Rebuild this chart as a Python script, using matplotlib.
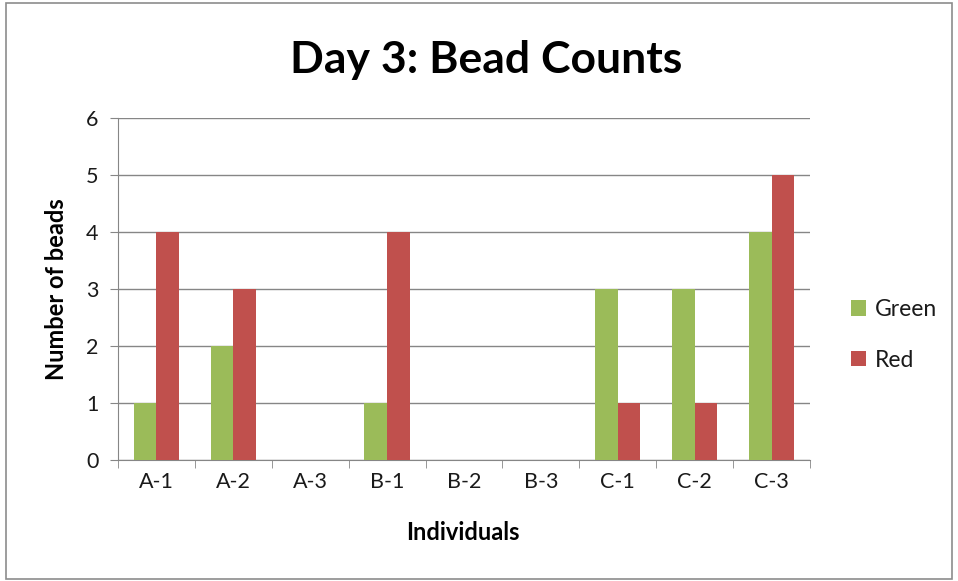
import matplotlib
matplotlib.use("Agg")
import matplotlib.pyplot as plt
import numpy as np
from matplotlib.patches import Rectangle

categories = ["A-1", "A-2", "A-3", "B-1", "B-2", "B-3", "C-1", "C-2", "C-3"]
green = [1, 2, 0, 1, 0, 0, 3, 3, 4]
red = [4, 3, 0, 4, 0, 0, 1, 1, 5]
yticks = [0, 1, 2, 3, 4, 5, 6]

plt.rcParams['font.family'] = ['Lato', 'DejaVu Sans']

fig = plt.figure(figsize=(9.58, 5.81), dpi=100)
fig.patches.append(Rectangle((0.006, 0.004), 0.988, 0.99, transform=fig.transFigure,
                             fill=False, edgecolor='#8c8c8c', linewidth=1.2))
ax = fig.add_axes([118/958, 1-460/581, (810-118)/958, (460-118)/581])

x = np.arange(len(categories))
w = 0.295
ax.bar(x - w/2, green, width=w, color='#9BBB59', label='Green', zorder=3)
ax.bar(x + w/2, red, width=w, color='#C0504D', label='Red', zorder=3)

ax.set_xlim(-0.5, len(categories) - 0.5)
ax.set_ylim(0, 6)
ax.set_yticks(yticks)
ax.set_yticklabels([str(t) for t in yticks], fontsize=15.5, color='#1a1a1a')
ax.yaxis.grid(True, color='#868686', linewidth=1.0, zorder=0)
ax.set_axisbelow(True)

ax.set_xticks(x)
ax.set_xticklabels(categories, fontsize=15.5, color='#1a1a1a')
ax.tick_params(axis='x', length=0, pad=9)
ax.set_xticks(np.arange(-0.5, len(categories)), minor=True)
ax.tick_params(axis='x', which='minor', length=6, color='#868686', direction='out')
ax.tick_params(axis='y', length=6, color='#868686', direction='out', pad=8)

for s in ['top', 'right']:
    ax.spines[s].set_visible(False)
ax.spines['left'].set_color('#868686')
ax.spines['bottom'].set_color('#868686')

fig.text(463/958, 1-533/581, "Individuals", fontsize=17, fontweight='bold',
         ha='center', va='center')
fig.text(57/958, 1-289/581, "Number of beads", fontsize=17, fontweight='bold',
         ha='center', va='center', rotation=90)

fig.text(486/958, 1-60/581, "Day 3: Bead Counts", fontsize=32, fontweight='bold',
         ha='center', va='center')

ax.legend(loc='center left', bbox_to_anchor=(851/958, 1-335/581), bbox_transform=fig.transFigure,
          frameon=False, fontsize=16.5, handlelength=0.65, handleheight=0.65, labelspacing=1.3,
          handletextpad=0.4, borderpad=0, borderaxespad=0, labelcolor='#1a1a1a')

fig.savefig("out.png", dpi=100)
